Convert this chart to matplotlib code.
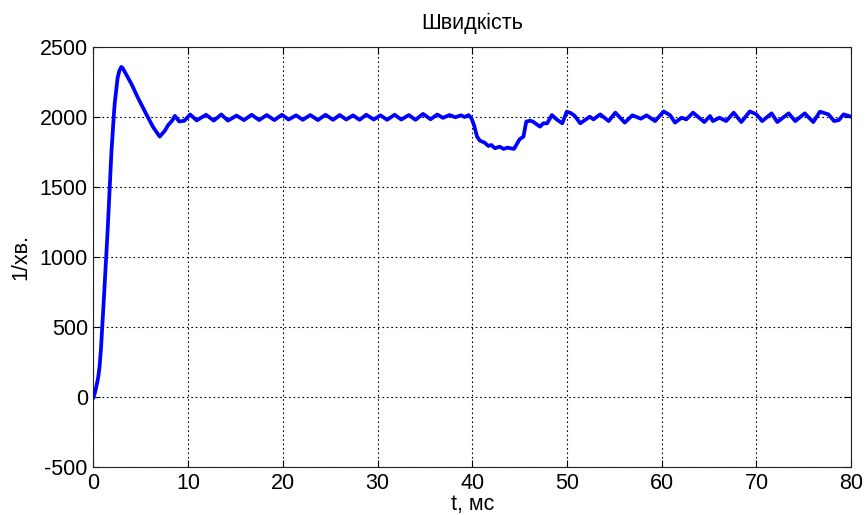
import numpy as np
import matplotlib
matplotlib.use("Agg")
import matplotlib.pyplot as plt

# Speed response (t in ms, speed in 1/min)
t_ms = [0, 0.15, 0.3, 0.5, 0.65, 0.8, 0.93, 1.1, 1.35, 1.5, 1.71, 1.9, 2.13, 2.25, 2.4,
        2.55, 2.75, 2.95, 3.1, 4.0, 4.73, 5.6, 6.3, 7.0, 7.55, 7.9, 8.3, 8.6, 9.05, 9.6,
        10.2, 10.9, 11.9, 12.7, 13.5, 14.2, 15.1, 15.9, 16.7, 17.5, 18.3, 19.1, 19.9,
        20.6, 21.4, 22.1, 22.9, 23.7, 24.5, 25.3, 26.0, 26.7, 27.4, 28.1, 28.8, 29.6,
        30.3, 31.0, 31.8, 32.5, 33.3, 34.0, 34.8, 35.6, 36.3, 36.9, 37.6, 38.2, 38.8,
        39.2, 39.6, 39.9, 40.2, 40.5, 40.8, 41.3, 41.7, 42.0, 42.4, 42.9, 43.3, 43.7,
        44.1, 44.4, 44.75, 45.0, 45.4, 45.7, 46.1, 46.4, 46.8, 47.15, 47.5, 47.9, 48.4,
        48.9, 49.5, 49.97, 50.4, 50.8, 51.4, 52.0, 52.4, 52.8, 53.5, 54.4, 55.1, 56.1,
        56.9, 57.8, 58.4, 59.3, 60.2, 60.9, 61.4, 62.1, 62.6, 63.3, 64.5, 65.1, 65.4,
        66.1, 66.8, 67.6, 68.4, 69.3, 70.0, 70.6, 71.6, 72.2, 73.4, 74.1, 75.1, 76.0,
        76.7, 77.6, 78.2, 78.7, 79.2, 80.0]
speed = [0, 30, 75, 140, 220, 350, 500, 700, 1000, 1190, 1490, 1750, 1990, 2100, 2190,
         2280, 2335, 2360, 2350, 2240, 2135, 2020, 1930, 1862, 1905, 1945, 1975, 2010, 1970, 1975,
         2020, 1978, 2018, 1976, 2020, 1976, 2012, 1980, 2018, 1980, 2016, 1980, 2018,
         1984, 2014, 1982, 2016, 1980, 2018, 1982, 2016, 1984, 2014, 1982, 2018, 1984,
         2014, 1982, 2018, 1984, 2016, 1982, 2024, 1986, 2020, 1996, 2016, 2000, 2014,
         2002, 2016, 1995, 1940, 1862, 1833, 1819, 1795, 1802, 1779, 1790, 1774, 1783,
         1778, 1774, 1814, 1843, 1862, 1969, 1976, 1969, 1950, 1933, 1957, 1957, 2016,
         1985, 1957, 2040, 2030, 2011, 1957, 1985, 2004, 1985, 2021, 1973, 2033, 1962,
         2014, 1990, 2014, 1973, 2042, 2014, 1962, 1997, 1985, 2033, 1966, 2009, 1973,
         1997, 1973, 2033, 1966, 2042, 2021, 1973, 2028, 1966, 2028, 1973, 2028, 1966,
         2040, 2021, 1973, 1980, 2021, 2004]

x_ticks = [0, 10, 20, 30, 40, 50, 60, 70, 80]
y_ticks = [-500, 0, 500, 1000, 1500, 2000, 2500]

plt.rcParams['font.family'] = ['Liberation Sans', 'DejaVu Sans']
plt.rcParams['font.size'] = 15.5
plt.rcParams['axes.unicode_minus'] = False

fig = plt.figure(figsize=(8.65, 5.15), dpi=100)
ax = fig.add_axes([0.108, 0.0926, 0.876, 0.8156])

ax.plot(t_ms, speed, color=(0, 0, 1), linewidth=2.7, zorder=3)

ax.set_xlim(0, 80)
ax.set_ylim(-500, 2500)
ax.set_xticks(x_ticks)
ax.set_yticks(y_ticks)
ax.grid(True, color='k', linestyle=(0, (1.5, 2.5)), linewidth=0.8)
ax.tick_params(direction='in', length=5, top=True, right=True, pad=4, width=0.8)
for s in ax.spines.values():
    s.set_linewidth(0.8)
    s.set_color('#222222')

ax.set_title("Швидкість", fontsize=15.5, pad=13)
ax.set_xlabel("t, мс", labelpad=0)
ax.set_ylabel("1/хв.", labelpad=6)

fig.savefig("out.png", dpi=100)
